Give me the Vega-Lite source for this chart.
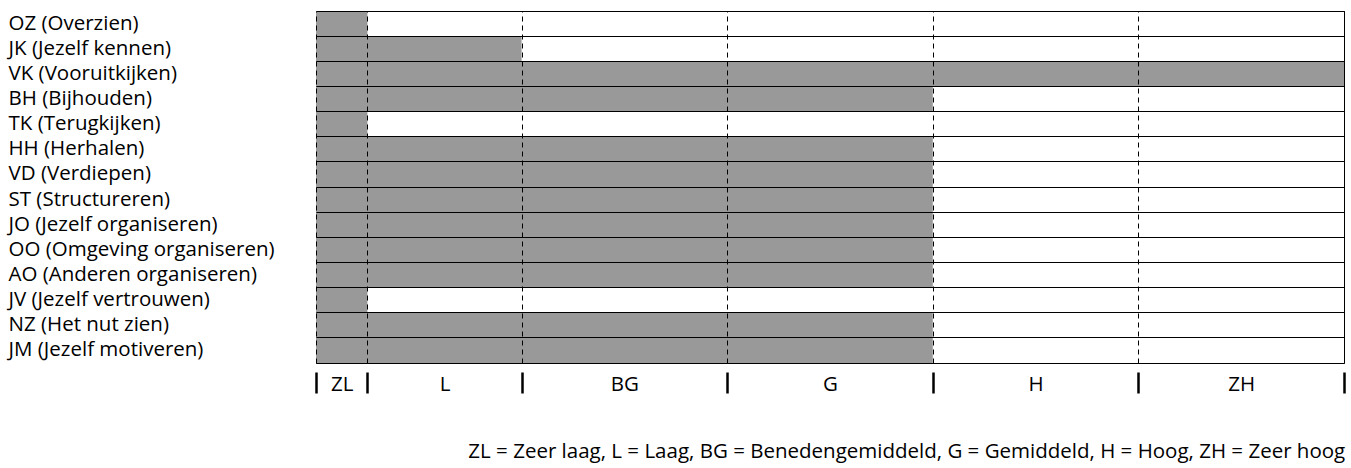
{
  "$schema": "https://vega.github.io/schema/vega-lite/v6.json",
  "width": 1028,
  "height": 352,
  "autosize": {"type": "none"},
  "padding": {"left": 316, "top": 11, "right": 7, "bottom": 105},
  "config": {"font": "Open Sans", "view": {"stroke": "black", "strokeWidth": 1}},
  "title": {
    "text": "ZL = Zeer laag, L = Laag, BG = Benedengemiddeld, G = Gemiddeld, H = Hoog, ZH = Zeer hoog",
    "orient": "bottom",
    "anchor": "end",
    "fontSize": 20.5,
    "fontWeight": "normal",
    "color": "black",
    "offset": 47
  },
  "data": {
    "values": [
      {"cat": "OZ (Overzien)", "score": 5},
      {"cat": "JK (Jezelf kennen)", "score": 20},
      {"cat": "VK (Vooruitkijken)", "score": 100},
      {"cat": "BH (Bijhouden)", "score": 60},
      {"cat": "TK (Terugkijken)", "score": 5},
      {"cat": "HH (Herhalen)", "score": 60},
      {"cat": "VD (Verdiepen)", "score": 60},
      {"cat": "ST (Structureren)", "score": 60},
      {"cat": "JO (Jezelf organiseren)", "score": 60},
      {"cat": "OO (Omgeving organiseren)", "score": 60},
      {"cat": "AO (Anderen organiseren)", "score": 60},
      {"cat": "JV (Jezelf vertrouwen)", "score": 5},
      {"cat": "NZ (Het nut zien)", "score": 60},
      {"cat": "JM (Jezelf motiveren)", "score": 60}
    ]
  },
  "resolve": {"axis": {"x": "independent"}},
  "layer": [
    {
      "mark": {"type": "bar", "color": "#999999", "orient": "horizontal"},
      "encoding": {
        "y": {
          "field": "cat",
          "type": "nominal",
          "sort": null,
          "scale": {"paddingInner": 0, "paddingOuter": 0},
          "axis": {
            "title": null,
            "ticks": false,
            "tickSize": 0,
            "domain": false,
            "labelAlign": "left",
            "labelPadding": 308,
            "labelLimit": 0,
            "labelFontSize": 20.5,
            "labelColor": "black",
            "grid": true,
            "gridColor": "black",
            "gridWidth": 1,
            "gridOpacity": 1,
            "bandPosition": 0,
            "zindex": 1
          }
        },
        "x": {
          "field": "score",
          "type": "quantitative",
          "scale": {"domain": [0, 100], "nice": false, "zero": true},
          "axis": {
            "orient": "bottom",
            "title": null,
            "values": [0, 5, 20, 40, 60, 80, 100],
            "labels": false,
            "domain": false,
            "ticks": true,
            "tickSize": 21,
            "tickWidth": 2.5,
            "tickColor": "black",
            "offset": 9,
            "grid": true,
            "gridDash": [5, 4],
            "gridColor": "black",
            "gridWidth": 1,
            "gridOpacity": 1,
            "zindex": 1
          }
        }
      }
    },
    {
      "mark": {"type": "bar", "opacity": 0, "orient": "horizontal"},
      "encoding": {
        "y": {"field": "cat", "type": "nominal", "sort": null},
        "x": {
          "field": "score",
          "type": "quantitative",
          "axis": {
            "orient": "bottom",
            "title": null,
            "values": [2.5, 12.5, 30, 50, 70, 90],
            "labelExpr": "datum.value == 2.5 ? 'ZL' : datum.value == 12.5 ? 'L' : datum.value == 30 ? 'BG' : datum.value == 50 ? 'G' : datum.value == 70 ? 'H' : 'ZH'",
            "domain": false,
            "ticks": false,
            "tickSize": 0,
            "grid": false,
            "labelFontSize": 20.5,
            "labelColor": "black",
            "labelBaseline": "middle",
            "labelPadding": 21,
            "zindex": 1
          }
        }
      }
    }
  ]
}
